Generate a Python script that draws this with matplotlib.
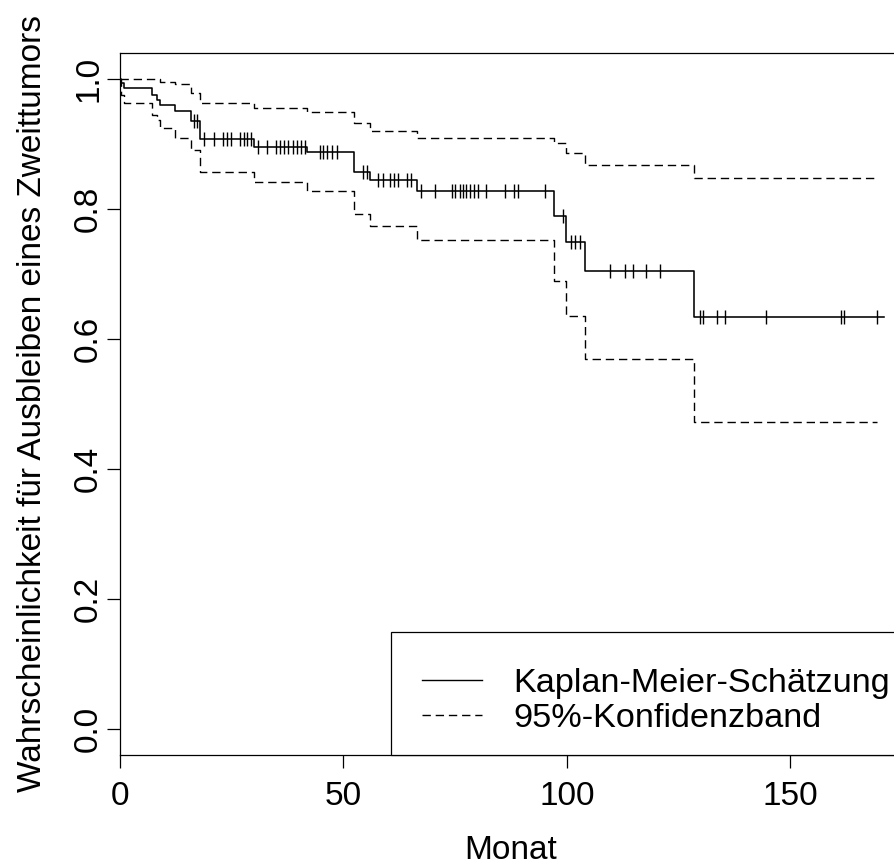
import numpy as np
import matplotlib
matplotlib.use("Agg")
import matplotlib.pyplot as plt
from matplotlib.patches import Rectangle

plt.rcParams['font.family'] = ['Liberation Sans', 'DejaVu Sans']

# Kaplan-Meier Schaetzung (Stufen), Monat / Ueberlebenswahrscheinlichkeit
km_times = [0, 0.3, 1.0, 7.1, 8.2, 8.9, 12.3, 16.0, 17.9, 30.0, 41.8, 52.3,
            55.9, 66.5, 97.1, 99.8, 104.0, 128.4]
km_surv = [1.0, 0.994, 0.986, 0.976, 0.968, 0.960, 0.951, 0.935, 0.908, 0.895,
           0.887, 0.857, 0.845, 0.827, 0.789, 0.749, 0.704, 0.634]
km_end = 171.0

# zensierte Beobachtungen
censored = [16.6, 17.2,
            18.9, 21.1, 23.0, 24.0, 24.8, 26.9, 27.7, 28.5, 29.4,
            30.9, 32.9, 34.9, 35.8, 36.7, 37.6, 38.7, 39.6, 40.6, 41.4,
            44.7, 45.5, 46.4, 47.4, 48.5,
            54.4, 55.2,
            57.8, 58.9, 60.5, 61.4, 62.3, 64.3, 65.2,
            67.4, 70.4, 74.2, 75.0, 76.0, 76.7, 77.5, 78.3, 79.2, 80.1, 82.0,
            86.2, 88.2, 89.1, 95.1,
            99.1,
            100.9, 101.9, 102.9,
            109.7, 113.0, 114.8, 117.7, 120.9,
            129.8, 130.5, 133.6, 135.5, 144.5, 161.3, 162.1, 169.3]

# 95%-Konfidenzband
upper_times = [0, 8.9, 12.3, 16.0, 17.9, 30.0, 41.8, 52.3, 55.9, 66.5, 97.1,
               99.8, 104.0, 128.4]
upper = [1.0, 0.996, 0.993, 0.979, 0.963, 0.955, 0.949, 0.932, 0.920, 0.910,
         0.901, 0.886, 0.867, 0.848]
lower_times = [0, 0.3, 1.0, 7.1, 8.2, 8.9, 12.3, 16.0, 17.9, 30.0, 41.8, 52.3,
               55.9, 66.5, 97.1, 99.8, 104.0, 128.4]
lower = [1.0, 0.976, 0.963, 0.945, 0.937, 0.924, 0.910, 0.891, 0.857, 0.841,
         0.827, 0.792, 0.774, 0.752, 0.690, 0.636, 0.570, 0.472]
ci_end = 169.3

W, H = 895, 865
fig = plt.figure(figsize=(W / 100, H / 100), dpi=100)
ax = fig.add_axes([120 / W, (H - 755) / H, 782 / W, 702 / H])

fs = 24
dash = (0, (6, 3.5))

ax.step(km_times + [km_end], km_surv + [km_surv[-1]], where='post',
        color='black', lw=1.15)
ax.step(upper_times + [ci_end], upper + [upper[-1]], where='post',
        color='black', lw=1.0, linestyle=dash)
ax.step(lower_times + [ci_end], lower + [lower[-1]], where='post',
        color='black', lw=1.0, linestyle=dash)

idx = np.searchsorted(km_times, censored, side='right') - 1
cens_y = np.array(km_surv)[idx]
ax.plot(censored, cens_y, linestyle='none', marker='|', markersize=10,
        markeredgewidth=1.0, color='black')

ax.set_xlim(0, 175)
ax.set_ylim(-0.04, 1.04)
ax.set_xticks([0, 50, 100, 150])
ax.set_yticks([0.0, 0.2, 0.4, 0.6, 0.8, 1.0])
ax.set_yticklabels(['0.0', '0.2', '0.4', '0.6', '0.8', '1.0'],
                   rotation=90, va='center')
ax.tick_params(length=9.5, width=0.9, labelsize=fs)
ax.tick_params(axis='x', pad=9)
ax.tick_params(axis='y', pad=2)
ax.spines['right'].set_visible(False)
for s in ax.spines.values():
    s.set_linewidth(0.9)

ax.set_xlabel('Monat', fontsize=fs, labelpad=17)
ax.set_ylabel('Wahrscheinlichkeit für Ausbleiben eines Zweittumors',
              fontsize=fs, labelpad=18)

# Legendenrahmen, rechts abgeschnitten wie im Original
frame = Rectangle((391 / W, (H - 755) / H), 0.6, 123 / H,
                  transform=fig.transFigure, facecolor='white',
                  edgecolor='black', lw=0.9, clip_on=False, zorder=4)
ax.add_patch(frame)

leg = ax.legend(['Kaplan-Meier-Schätzung', '95%-Konfidenzband'],
                loc='upper left', bbox_to_anchor=(422 / W, (H - 668) / H),
                bbox_transform=fig.transFigure, fontsize=24.7, frameon=False,
                handlelength=1.75, handletextpad=0.92, borderpad=0,
                borderaxespad=0, labelspacing=0.12)
leg.set_zorder(5)
for hl in leg.legend_handles:
    hl.set_linewidth(1.0)
leg.legend_handles[1].set_linestyle(dash)

fig.savefig('out.png', dpi=100)
